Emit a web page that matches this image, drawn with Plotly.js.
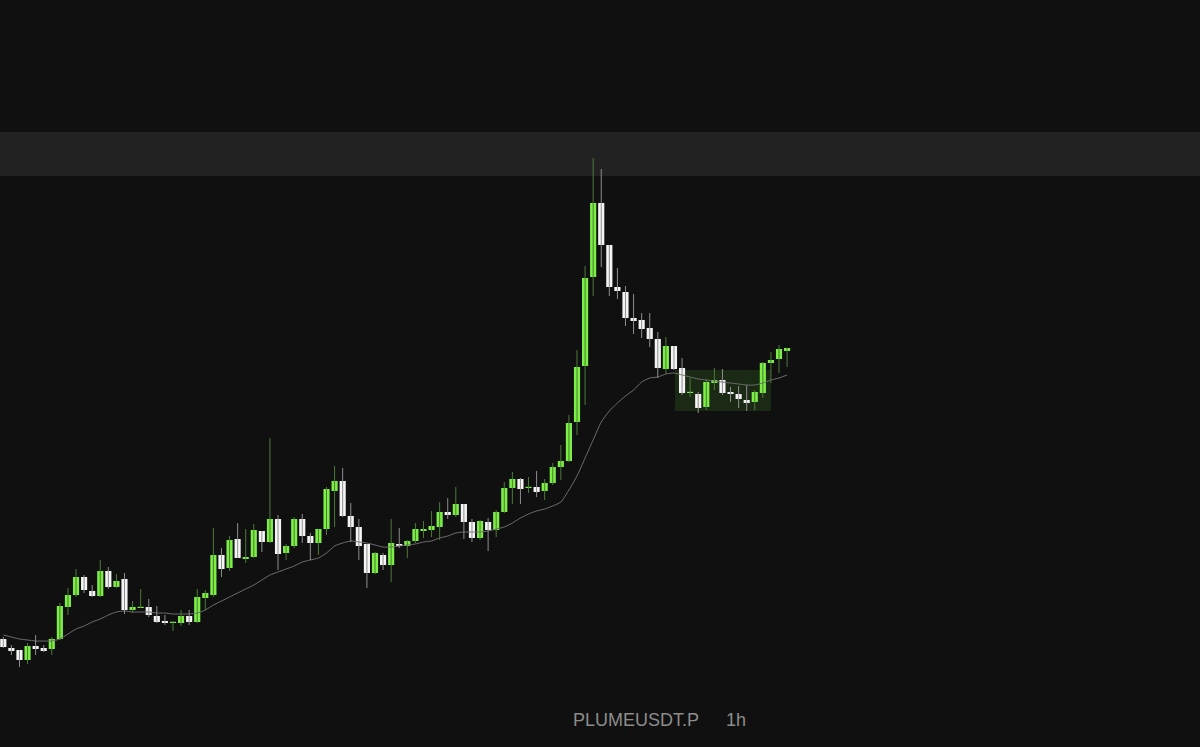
<!DOCTYPE html>
<html>
<head>
<meta charset="utf-8">
<script src="https://cdn.plot.ly/plotly-3.0.1.min.js"></script>
<style>
  html, body { margin: 0; padding: 0; background: #101010; }
  #chart { width: 1200px; height: 747px; }
</style>
</head>
<body>
<div id="chart"></div>
<script>
// PLUMEUSDT.P, 1h candles
const symbol = "PLUMEUSDT.P";
const interval = "1h";

const openP = [
  0.0661,0.0652,0.0650,0.0640,0.0654,0.0652,0.0651,0.0661,0.0693,0.0705,
  0.0723,0.0709,0.0704,0.0729,0.0713,0.0721,0.0690,0.0692,0.0693,0.0684,
  0.0679,0.0677,0.0677,0.0684,0.0678,0.0702,0.0705,0.0745,0.0732,0.0761,
  0.0741,0.0743,0.0769,0.0758,0.0781,0.0747,0.0754,0.0781,0.0764,0.0757,
  0.0771,0.0809,0.0819,0.0784,0.0773,0.0756,0.0727,0.0745,0.0735,0.0756,
  0.0754,0.0759,0.0769,0.0770,0.0773,0.0788,0.0785,0.0796,0.0778,0.0762,
  0.0778,0.0770,0.0788,0.0812,0.0821,0.0812,0.0813,0.0809,0.0817,0.0833,
  0.0839,0.0878,0.0934,0.1023,0.1097,0.1055,0.1013,0.1008,0.0982,0.0980,
  0.0972,0.0961,0.0931,0.0954,0.0932,0.0907,0.0906,0.0893,0.0917,0.0920,
  0.0908,0.0906,0.0900,0.0898,0.0907,0.0937,0.0941,0.0949
];
const highP = [
  0.0663,0.0655,0.0650,0.0657,0.0665,0.0655,0.0663,0.0697,0.0712,0.0731,
  0.0725,0.0715,0.0740,0.0733,0.0726,0.0727,0.0699,0.0711,0.0701,0.0694,
  0.0685,0.0679,0.0690,0.0690,0.0711,0.0710,0.0772,0.0752,0.0764,0.0777,
  0.0771,0.0776,0.0769,0.0862,0.0785,0.0756,0.0783,0.0786,0.0767,0.0771,
  0.0813,0.0834,0.0832,0.0797,0.0781,0.0756,0.0748,0.0747,0.0781,0.0772,
  0.0760,0.0777,0.0779,0.0789,0.0798,0.0802,0.0813,0.0796,0.0781,0.0780,
  0.0782,0.0790,0.0818,0.0828,0.0822,0.0823,0.0829,0.0821,0.0837,0.0855,
  0.0885,0.0950,0.1034,0.1142,0.1131,0.1055,0.1032,0.1014,0.1006,0.0987,
  0.0987,0.0968,0.0963,0.0954,0.0942,0.0922,0.0908,0.0921,0.0932,0.0931,
  0.0913,0.0914,0.0915,0.0910,0.0938,0.0948,0.0955,0.0952
];
const lowP = [
  0.0652,0.0645,0.0633,0.0636,0.0645,0.0648,0.0645,0.0660,0.0685,0.0703,
  0.0707,0.0703,0.0703,0.0711,0.0712,0.0686,0.0687,0.0692,0.0683,0.0677,
  0.0675,0.0669,0.0674,0.0675,0.0677,0.0690,0.0703,0.0723,0.0729,0.0742,
  0.0737,0.0742,0.0748,0.0757,0.0730,0.0740,0.0752,0.0757,0.0740,0.0745,
  0.0765,0.0773,0.0783,0.0758,0.0740,0.0712,0.0726,0.0730,0.0718,0.0752,
  0.0742,0.0757,0.0762,0.0763,0.0760,0.0781,0.0783,0.0761,0.0758,0.0760,
  0.0749,0.0763,0.0787,0.0796,0.0796,0.0807,0.0803,0.0800,0.0815,0.0820,
  0.0838,0.0865,0.0895,0.1004,0.1033,0.1004,0.1001,0.0974,0.0966,0.0962,
  0.0953,0.0922,0.0926,0.0930,0.0905,0.0903,0.0887,0.0890,0.0910,0.0905,
  0.0898,0.0892,0.0889,0.0890,0.0902,0.0917,0.0927,0.0933
];
const closeP = [
  0.0653,0.0649,0.0640,0.0654,0.0651,0.0649,0.0661,0.0694,0.0705,0.0723,
  0.0710,0.0704,0.0729,0.0713,0.0719,0.0690,0.0693,0.0693,0.0685,0.0678,
  0.0677,0.0678,0.0684,0.0678,0.0703,0.0707,0.0745,0.0731,0.0760,0.0742,
  0.0743,0.0770,0.0758,0.0781,0.0746,0.0754,0.0781,0.0764,0.0757,0.0771,
  0.0811,0.0819,0.0784,0.0773,0.0754,0.0727,0.0747,0.0735,0.0757,0.0754,
  0.0759,0.0771,0.0771,0.0774,0.0788,0.0785,0.0796,0.0778,0.0762,0.0779,
  0.0770,0.0788,0.0812,0.0821,0.0811,0.0813,0.0808,0.0817,0.0833,0.0839,
  0.0877,0.0933,0.1022,0.1097,0.1055,0.1013,0.1009,0.0982,0.0979,0.0971,
  0.0961,0.0932,0.0954,0.0931,0.0907,0.0908,0.0892,0.0918,0.0920,0.0907,
  0.0906,0.0901,0.0897,0.0908,0.0937,0.0940,0.0951,0.0952
];
// moving average line
const maP = [
  0.0665,0.0663,0.0661,0.0660,0.0659,0.0659,0.0659,0.0661,0.0666,0.0671,
  0.0674,0.0678,0.0681,0.0685,0.0688,0.0689,0.0688,0.0688,0.0688,0.0687,
  0.0687,0.0686,0.0686,0.0686,0.0687,0.0690,0.0695,0.0699,0.0703,0.0707,
  0.0711,0.0715,0.0720,0.0725,0.0728,0.0731,0.0734,0.0738,0.0740,0.0742,
  0.0747,0.0754,0.0757,0.0759,0.0758,0.0757,0.0755,0.0753,0.0753,0.0754,
  0.0755,0.0756,0.0758,0.0759,0.0762,0.0764,0.0767,0.0768,0.0768,0.0768,
  0.0769,0.0771,0.0773,0.0777,0.0782,0.0786,0.0789,0.0791,0.0794,0.0798,
  0.0810,0.0824,0.0842,0.0860,0.0878,0.0889,0.0897,0.0904,0.0910,0.0918,
  0.0922,0.0923,0.0926,0.0927,0.0925,0.0923,0.0921,0.0920,0.0919,0.0918,
  0.0917,0.0916,0.0915,0.0915,0.0917,0.0920,0.0922,0.0925
];

// highlighted price band and consolidation zone
const bandPrice = [0.1124, 0.1168];
const zoneCandles = [83.13, 95.0];
const zonePrice = [0.0889, 0.0930];

// view window
const xView = [-0.408, 148.1];
const yView = [0.0553, 0.1300];

const upBody = "#7bef44", downBody = "#f4f4f4";
const upWick = "#4d7a3a", downWick = "#8e8e8e";

const idx = openP.map((_, i) => i);
const isUp = idx.map(i => closeP[i] >= openP[i]);

function wicks(up) {
  const xs = [], ys = [];
  idx.forEach(i => {
    if (isUp[i] === up) { xs.push(i, i, null); ys.push(lowP[i], highP[i], null); }
  });
  return { x: xs, y: ys };
}
const wu = wicks(true), wd = wicks(false);
const minBody = 0.00012;
const bodyBase = idx.map(i => Math.min(openP[i], closeP[i]));
const bodyLen = idx.map(i => Math.max(Math.abs(closeP[i] - openP[i]), minBody));

const traces = [
  { type: "scatter", mode: "lines", x: idx, y: maP, line: { color: "#6e6e6e", width: 1, shape: "spline", smoothing: 0.6 }, hoverinfo: "skip" },
  { type: "scatter", mode: "lines", x: wu.x, y: wu.y, line: { color: upWick, width: 1 }, hoverinfo: "skip", connectgaps: false },
  { type: "scatter", mode: "lines", x: wd.x, y: wd.y, line: { color: downWick, width: 1 }, hoverinfo: "skip", connectgaps: false },
  { type: "bar", x: idx, y: bodyLen, base: bodyBase, width: 0.76,
    marker: { color: idx.map(i => isUp[i] ? upBody : downBody), line: { width: 0 } }, hoverinfo: "skip" }
];

const txtFont = { family: "Liberation Sans, Arial, sans-serif", size: 18, color: "#8c8c8c" };
const layout = {
  width: 1200, height: 747,
  margin: { l: 0, r: 0, t: 0, b: 0 },
  paper_bgcolor: "#101010", plot_bgcolor: "#101010",
  showlegend: false,
  xaxis: { visible: false, range: xView, fixedrange: true },
  yaxis: { visible: false, range: yView, fixedrange: true },
  shapes: [
    { type: "rect", layer: "below", xref: "paper", x0: 0, x1: 1, yref: "y", y0: bandPrice[0], y1: bandPrice[1],
      fillcolor: "#222222", line: { width: 0 } },
    { type: "rect", layer: "below", xref: "x", x0: zoneCandles[0], x1: zoneCandles[1], yref: "y", y0: zonePrice[0], y1: zonePrice[1],
      fillcolor: "#1a2a15", line: { width: 0 } }
  ],
  annotations: [
    { text: symbol, xref: "paper", yref: "paper", x: 571/1200, y: 1 - 720/747, xanchor: "left", yanchor: "middle",
      showarrow: false, font: txtFont },
    { text: interval, xref: "paper", yref: "paper", x: 724/1200, y: 1 - 720/747, xanchor: "left", yanchor: "middle",
      showarrow: false, font: txtFont }
  ]
};

Plotly.newPlot("chart", traces, layout, { displayModeBar: false, staticPlot: true });
</script>
</body>
</html>
